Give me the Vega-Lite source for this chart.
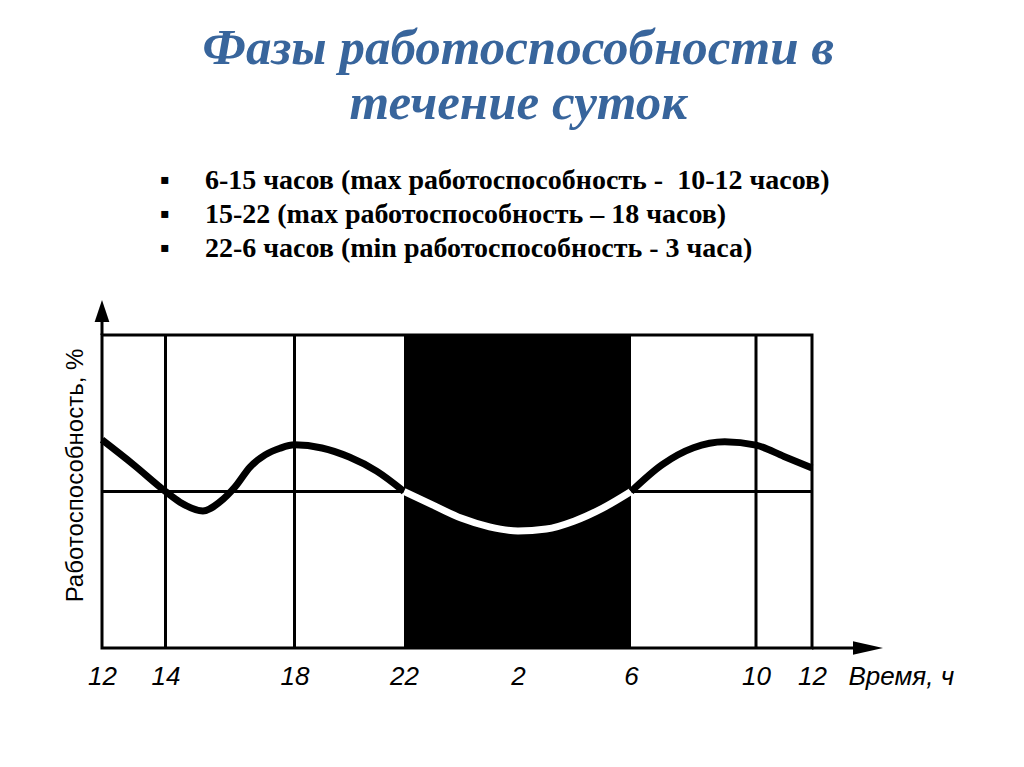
{
  "$schema": "https://vega.github.io/schema/vega-lite/v6.json",
  "background": "white",
  "autosize": {"type": "none"},
  "padding": {"left": 102, "top": 335, "right": 212, "bottom": 432},
  "title": {
    "text": ["Фазы работоспособности в", "течение суток"],
    "font": "Liberation Serif",
    "fontSize": 51,
    "fontWeight": "bold",
    "fontStyle": "italic",
    "color": "#38659c",
    "lineHeight": 55,
    "anchor": "middle",
    "dx": 10,
    "offset": 35
  },
  "datasets": {
    "curve": [
      {"t": 0, "p": 66.5, "segment": "день-1"},
      {"t": 1, "p": 58.5, "segment": "день-1"},
      {"t": 2, "p": 50, "segment": "день-1"},
      {"t": 2.45, "p": 46.6, "segment": "день-1"},
      {"t": 3.16, "p": 43.8, "segment": "день-1"},
      {"t": 3.69, "p": 46.7, "segment": "день-1"},
      {"t": 4.16, "p": 51.5, "segment": "день-1"},
      {"t": 4.62, "p": 57.8, "segment": "день-1"},
      {"t": 5.09, "p": 61.7, "segment": "день-1"},
      {"t": 5.55, "p": 63.8, "segment": "день-1"},
      {"t": 6, "p": 64.9, "segment": "день-1"},
      {"t": 7, "p": 63.9, "segment": "день-1"},
      {"t": 8, "p": 61, "segment": "день-1"},
      {"t": 9, "p": 56.5, "segment": "день-1"},
      {"t": 10, "p": 50, "segment": "день-1"},
      {"t": 10, "p": 50, "segment": "ночь"},
      {"t": 11, "p": 45.7, "segment": "ночь"},
      {"t": 12, "p": 41.5, "segment": "ночь"},
      {"t": 13, "p": 38.7, "segment": "ночь"},
      {"t": 14, "p": 37.4, "segment": "ночь"},
      {"t": 15, "p": 38, "segment": "ночь"},
      {"t": 16, "p": 40.6, "segment": "ночь"},
      {"t": 17, "p": 44.7, "segment": "ночь"},
      {"t": 18, "p": 50, "segment": "ночь"},
      {"t": 18, "p": 50, "segment": "день-2"},
      {"t": 19, "p": 58.6, "segment": "день-2"},
      {"t": 20, "p": 64, "segment": "день-2"},
      {"t": 21, "p": 65.9, "segment": "день-2"},
      {"t": 22, "p": 64.8, "segment": "день-2"},
      {"t": 23, "p": 61.2, "segment": "день-2"},
      {"t": 24, "p": 57.5, "segment": "день-2"}
    ]
  },
  "vconcat": [
    {
      "width": 710,
      "height": 313,
      "title": {
        "text": [
          "▪\u2003 6-15 часов (max работоспособность -\u00a0\u00a010-12 часов)",
          "▪\u2003 15-22 (max работоспособность – 18 часов)",
          "▪\u2003 22-6 часов (min работоспособность - 3 часа)"
        ],
        "anchor": "start",
        "frame": "group",
        "dx": 58,
        "font": "Liberation Serif",
        "fontSize": 28,
        "fontWeight": "bold",
        "color": "black",
        "lineHeight": 34,
        "offset": 37
      },
      "layer": [
        {
          "data": {"values": [{"t": 2}, {"t": 6}, {"t": 22}]},
          "mark": {"type": "rule", "color": "black", "strokeWidth": 3},
          "encoding": {
            "x": {
              "field": "t",
              "type": "quantitative",
              "title": "Время, ч",
              "scale": {"type": "linear", "domain": [0, 2, 6, 10, 14, 18, 22, 24], "range": [0, 63.5, 192.5, 302, 416, 529, 654, 710], "nice": false, "zero": false},
              "axis": {
                "values": [0, 2, 6, 10, 14, 18, 22, 24],
                "labelExpr": "'' + ((datum.value + 12) % 24)",
                "domain": false,
                "ticks": false,
                "grid": false,
                "labelFont": "Liberation Sans",
                "labelFontStyle": "italic",
                "labelFontSize": 26,
                "labelColor": "black",
                "labelPadding": 15,
                "labelFlush": false,
                "labelOverlap": false,
                "titleX": 746,
                "titleY": 15,
                "titleAlign": "left",
                "titleBaseline": "top",
                "titleFont": "Liberation Sans",
                "titleFontStyle": "italic",
                "titleFontWeight": "normal",
                "titleFontSize": 26,
                "titleColor": "black"
              }
            }
          }
        },
        {
          "data": {"values": [{"p": 50}]},
          "mark": {"type": "rule", "color": "black", "strokeWidth": 3},
          "encoding": {
            "y": {
              "field": "p",
              "type": "quantitative",
              "title": "Работоспособность, %",
              "scale": {"domain": [0, 100], "nice": false, "zero": true},
              "axis": {
                "labels": false,
                "ticks": false,
                "domain": false,
                "grid": false,
                "titleFont": "Liberation Sans",
                "titleFontSize": 24,
                "titleFontWeight": "normal",
                "titleColor": "black",
                "titlePadding": 15,
                "titleY": 140
              }
            }
          }
        },
        {
          "data": {"values": [{"start": 10, "end": 18}]},
          "mark": {"type": "rect", "color": "black"},
          "encoding": {
            "x": {"field": "start", "type": "quantitative", "title": "Время, ч"},
            "x2": {"field": "end"}
          }
        },
        {
          "data": {"name": "curve"},
          "mark": {"type": "line", "strokeWidth": 7, "interpolate": "monotone", "strokeCap": "butt"},
          "encoding": {
            "x": {"field": "t", "type": "quantitative", "title": "Время, ч"},
            "y": {"field": "p", "type": "quantitative", "title": "Работоспособность, %"},
            "color": {"field": "segment", "type": "nominal", "scale": {"domain": ["день-1", "ночь", "день-2"], "range": ["#000000", "#ffffff", "#000000"]}, "legend": null}
          }
        },
        {
          "data": {"values": [{"t0": 24, "t1": 25.9, "p": 0}]},
          "mark": {"type": "rule", "color": "black", "strokeWidth": 3},
          "encoding": {
            "x": {"field": "t0", "type": "quantitative", "title": "Время, ч"},
            "x2": {"field": "t1"},
            "y": {"field": "p", "type": "quantitative", "title": "Работоспособность, %"}
          }
        },
        {
          "data": {"values": [{"t": 0, "p0": 100, "p1": 107.7}]},
          "mark": {"type": "rule", "color": "black", "strokeWidth": 3},
          "encoding": {
            "x": {"field": "t", "type": "quantitative", "title": "Время, ч"},
            "y": {"field": "p0", "type": "quantitative", "title": "Работоспособность, %"},
            "y2": {"field": "p1"}
          }
        },
        {
          "data": {"values": [{"t": 26, "p": 0}]},
          "mark": {"type": "point", "shape": "M1,0L-1,-0.45L-1,0.45Z", "size": 900, "filled": true, "color": "black", "opacity": 1},
          "encoding": {
            "x": {"field": "t", "type": "quantitative", "title": "Время, ч"},
            "y": {"field": "p", "type": "quantitative", "title": "Работоспособность, %"}
          }
        },
        {
          "data": {"values": [{"t": 0, "p": 107.7}]},
          "mark": {"type": "point", "shape": "M0,-1L0.67,1L-0.67,1Z", "size": 484, "filled": true, "color": "black", "opacity": 1},
          "encoding": {
            "x": {"field": "t", "type": "quantitative", "title": "Время, ч"},
            "y": {"field": "p", "type": "quantitative", "title": "Работоспособность, %"}
          }
        }
      ]
    }
  ],
  "config": {
    "view": {"stroke": "black", "strokeWidth": 3}
  }
}
